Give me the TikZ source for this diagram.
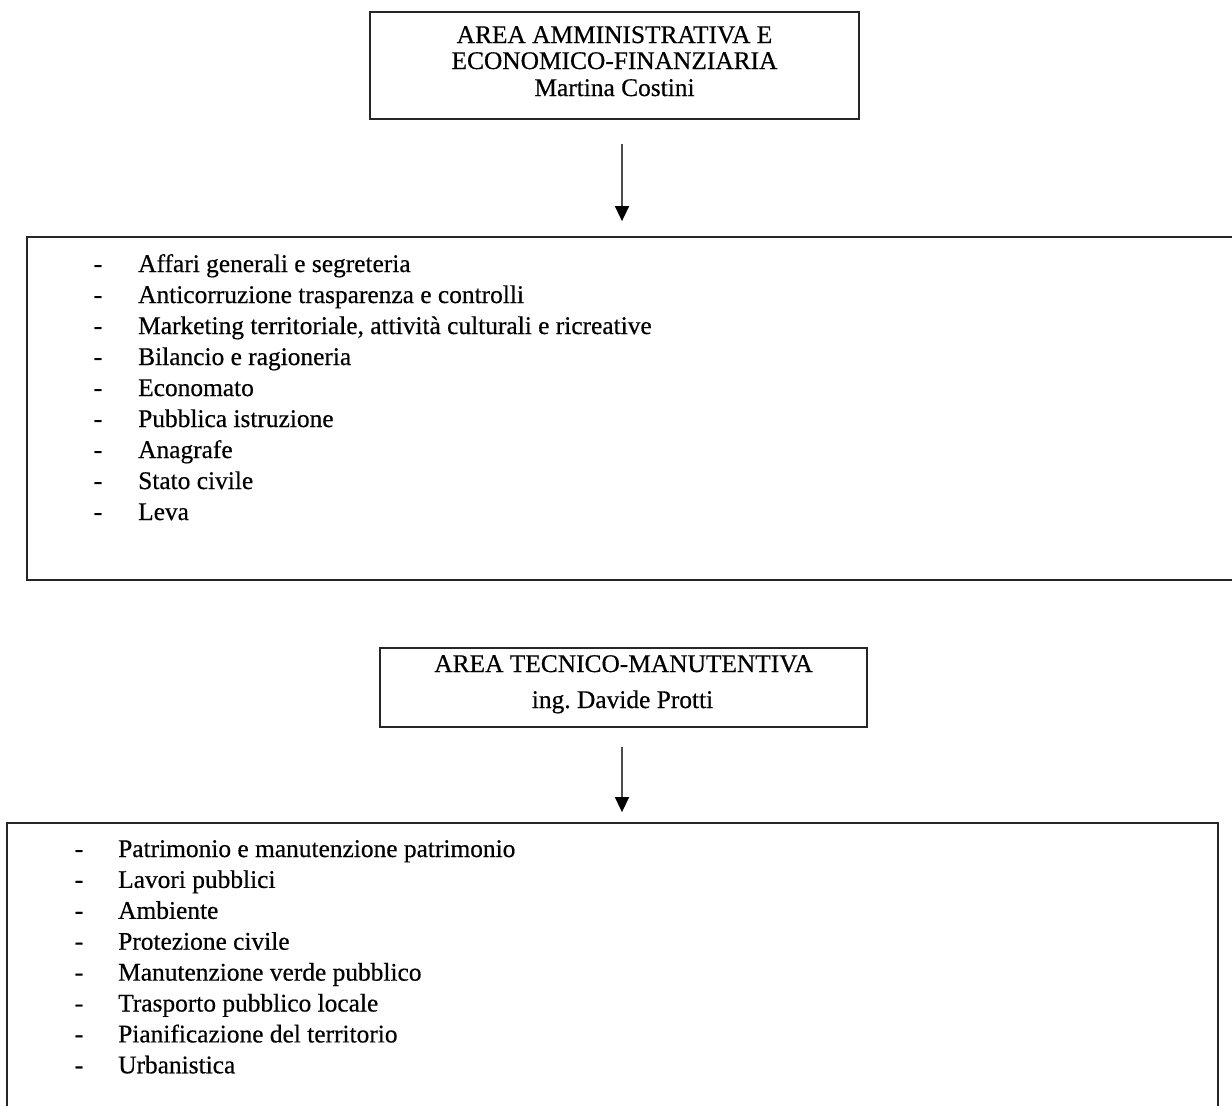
\documentclass[tikz,border=0pt]{standalone}
\usepackage{fontspec}
\setmainfont{Liberation Serif}[FakeBold=0.5]
\usetikzlibrary{arrows.meta}
\frenchspacing
\begin{document}
\begin{tikzpicture}[x=1pt,y=-1pt,
  boxstyle/.style={draw=black!85, line width=1.8pt, rectangle, inner sep=0pt},
  conn/.style={draw=black!70, line width=1.6pt, -{Triangle[length=15pt,width=14pt,fill=black,color=black]}},
  txt/.style={inner sep=0pt, font=\fontsize{25.4}{31}\selectfont, text=black},
  itemtxt/.style={txt, anchor=base west},
  dashtxt/.style={txt, anchor=base}
]
\useasboundingbox (0,0) rectangle (1232,1106);
\clip (0,0) rectangle (1232,1106);

% boxes
\node[boxstyle, minimum width=489pt, minimum height=107pt] (box1) at (614.5,65.5) {};
\node[boxstyle, minimum width=1223pt, minimum height=343pt] (box2) at (638.5,408.5) {};
\node[boxstyle, minimum width=487pt, minimum height=79pt] (box3) at (623.5,687.5) {};
\node[boxstyle, minimum width=1211pt, minimum height=300pt] (box4) at (612.5,973) {};

% titles
\node[txt, anchor=base] (t1a) at (614.5,43) {AREA AMMINISTRATIVA E};
\node[txt, anchor=base] (t1b) at (614.5,69) {ECONOMICO-FINANZIARIA};
\node[txt, anchor=base] (t1c) at (614.5,96) {Martina Costini};
\node[txt, anchor=base] (t3a) at (623.5,672) {AREA TECNICO-MANUTENTIVA};
\node[txt, anchor=base] (t3b) at (622.5,708) {ing.\ Davide Protti};

% connectors
\coordinate (ax1) at (622,0);
\coordinate (ax2) at (622,0);
\draw[conn, shorten <=24pt, shorten >=15pt] (ax1 |- box1.south) -- (ax1 |- box2.north);
\draw[conn, shorten <=19pt, shorten >=10pt] (ax2 |- box3.south) -- (ax2 |- box4.north);

% list 1
\foreach \t [count=\i] in {Affari generali e segreteria,
  Anticorruzione trasparenza e controlli,
  {Marketing territoriale, attività culturali e ricreative},
  Bilancio e ragioneria,
  Economato,
  Pubblica istruzione,
  Anagrafe,
  Stato civile,
  Leva}{
  \node[dashtxt] (da\i) at (98,{272+31*(\i-1)}) {-};
  \node[itemtxt] (la\i) at (138,{272+31*(\i-1)}) {\t};
}

% list 2
\foreach \t [count=\i] in {Patrimonio e manutenzione patrimonio,
  Lavori pubblici,
  Ambiente,
  Protezione civile,
  Manutenzione verde pubblico,
  Trasporto pubblico locale,
  Pianificazione del territorio,
  Urbanistica}{
  \node[dashtxt] (db\i) at (79,{857+30.9*(\i-1)}) {-};
  \node[itemtxt] (lb\i) at (118,{857+30.9*(\i-1)}) {\t};
}
\end{tikzpicture}
\end{document}
